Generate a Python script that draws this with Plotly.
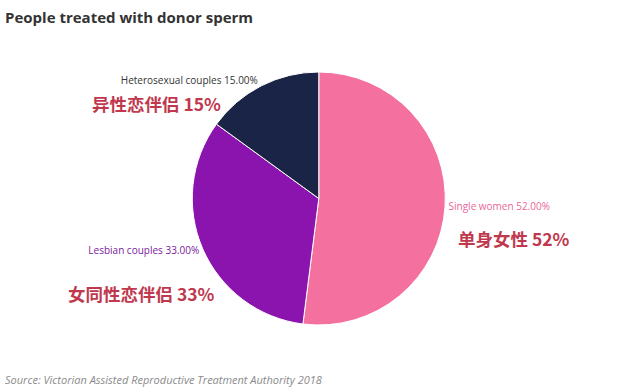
import plotly.graph_objects as go

labels = ["Single women", "Lesbian couples", "Heterosexual couples"]
values = [52.0, 33.0, 15.0]
colors = ["#F3709F", "#8C14AE", "#1A2446"]
label_colors = ["#E8679A", "#7A1AA0", "#333333"]
cn_labels = ["单身女性 52%", "女同性恋伴侣 33%", "异性恋伴侣 15%"]

W, H = 644, 389

fig = go.Figure(go.Pie(
    labels=labels, values=values, sort=False, direction="clockwise", rotation=0,
    marker=dict(colors=colors, line=dict(color="#ffffff", width=1)),
    texttemplate="%{label} %{value:.2f}%", textposition="outside",
    outsidetextfont=dict(family="Open Sans", size=10, color=label_colors),
    domain=dict(x=[0.2, 0.79], y=[(H - 325) / H, (H - 72) / H]),
    showlegend=False, hoverinfo="label+percent",
))

cn_font = dict(family="Noto Sans CJK SC", size=17.5, color="#C0384E")

fig.update_layout(
    width=W, height=H, margin=dict(l=0, r=0, t=0, b=0, autoexpand=False),
    paper_bgcolor="#ffffff", plot_bgcolor="#ffffff",
    annotations=[
        dict(text="<b>People treated with donor sperm</b>", x=3 / W, y=1 - 17 / H, xref="paper", yref="paper",
             xanchor="left", yanchor="middle", showarrow=False,
             font=dict(family="Open Sans", size=15, color="#333333")),
        dict(text="<i>Source: Victorian Assisted Reproductive Treatment Authority 2018</i>", x=3 / W, y=1 - 379 / H,
             xref="paper", yref="paper", xanchor="left", yanchor="middle", showarrow=False,
             font=dict(family="Open Sans", size=11, color="#8a8a8a")),
        dict(text="<b>" + cn_labels[0] + "</b>", x=456 / W, y=1 - 238 / H, xref="paper", yref="paper",
             xanchor="left", yanchor="middle", showarrow=False, font=cn_font),
        dict(text="<b>" + cn_labels[1] + "</b>", x=66 / W, y=1 - 293 / H, xref="paper", yref="paper",
             xanchor="left", yanchor="middle", showarrow=False, font=cn_font),
        dict(text="<b>" + cn_labels[2] + "</b>", x=90 / W, y=1 - 103 / H, xref="paper", yref="paper",
             xanchor="left", yanchor="middle", showarrow=False, font=cn_font),
    ],
)

fig.write_html("out.html", config={"displayModeBar": False},
               post_script="document.body.style.margin='0';")
